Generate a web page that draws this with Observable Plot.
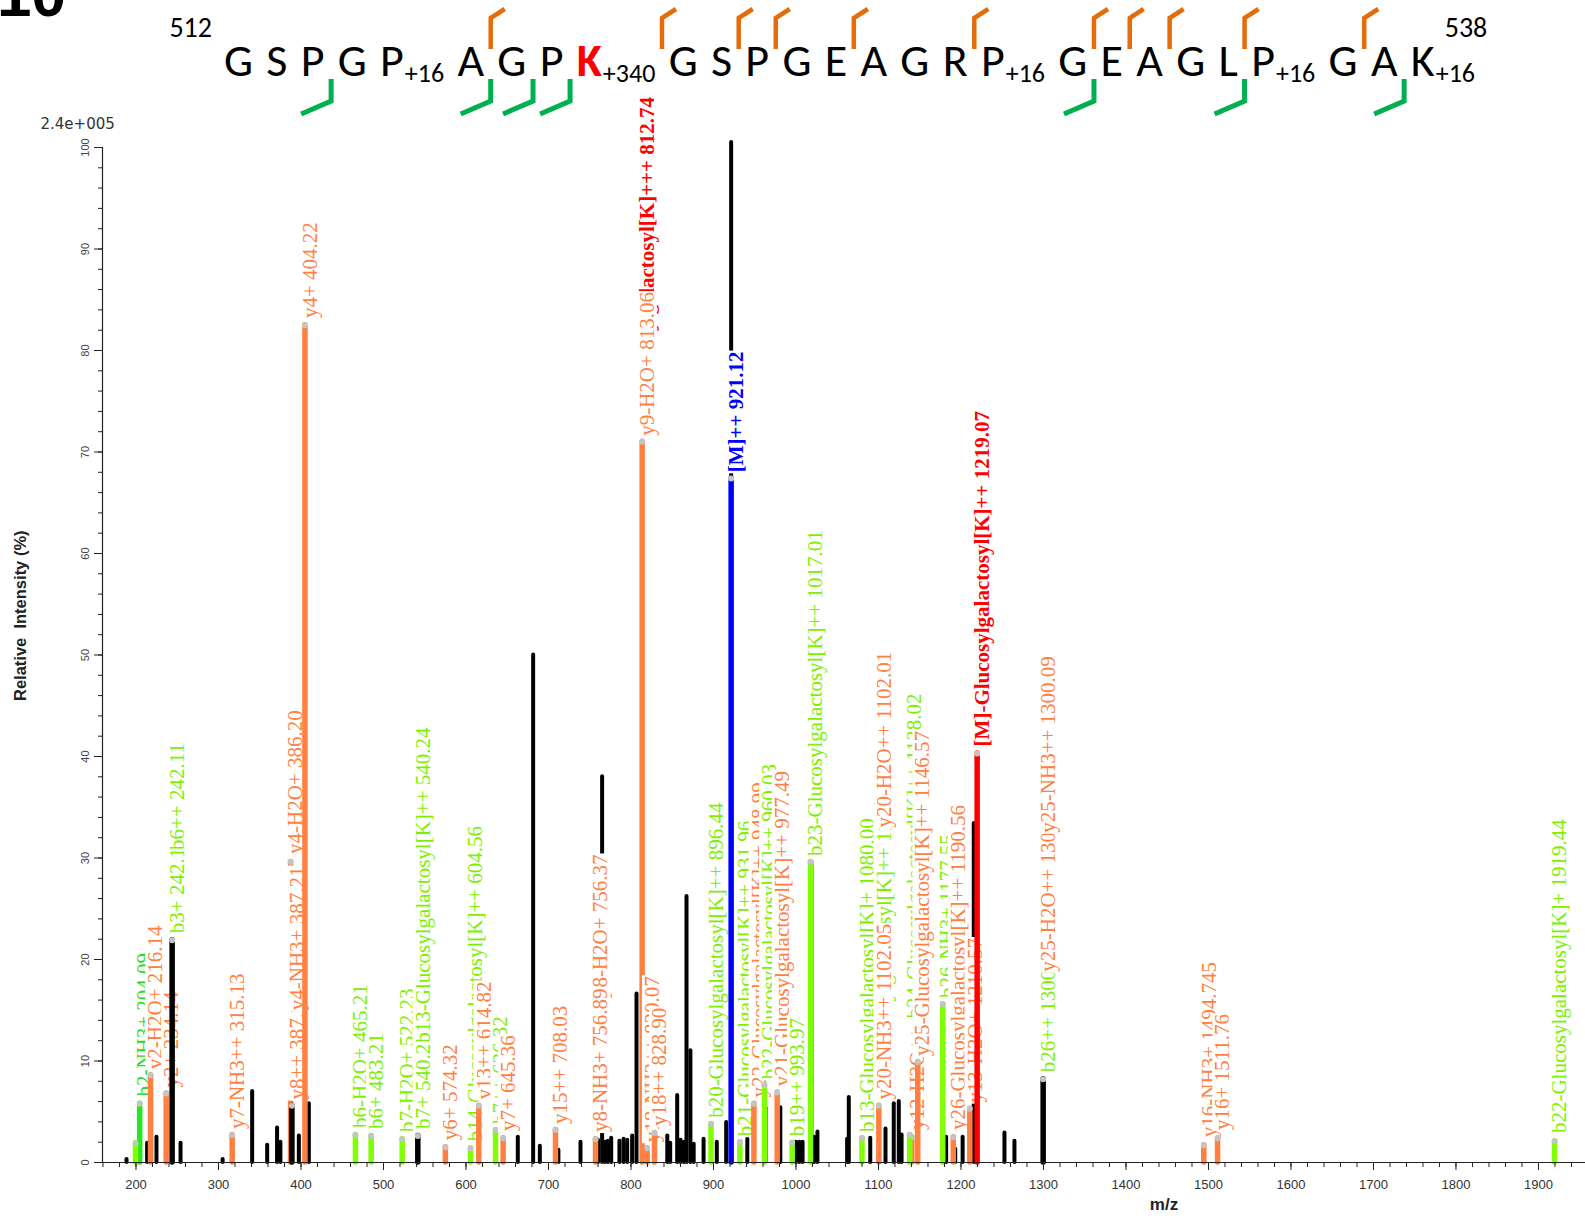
<!DOCTYPE html>
<html>
<head>
<meta charset="utf-8">
<script src="https://cdn.jsdelivr.net/npm/d3@7"></script>
<script src="https://cdn.jsdelivr.net/npm/@observablehq/plot@0.6"></script>
<style>
  html, body { margin: 0; padding: 0; background: #fff; }
  #page { width: 1585px; height: 1219px; overflow: hidden; position: relative; }
  #page svg { display: block; position: absolute; left: 0; }
</style>
</head>
<body>
<div id="page"></div>
<script>
// ---------------- Peptide 512–538 with fragment coverage ----------------
const residues   = ["G","S","P","G","P","A","G","P","K","G","S","P","G","E","A","G","R","P","G","E","A","G","L","P","G","A","K"];
const residueMod = ["","","","","+16","","","","+340","","","","","","","","","+16","","","","","","+16","","","+16"];
const glycoResidue = 9;                 // glycosylated hydroxylysine (1-based)
const firstPos = 512, lastPos = 538;
const yIonBreaks = [6, 9, 11, 12, 14, 17, 19, 20, 21, 23, 25];   // cleavage after residue n
const bIonBreaks = [3, 6, 7, 8, 19, 23, 26];

// ---------------- Spectrum: unassigned peaks (m/z, relative intensity %) ----------------
const rawMz  = [188.5, 213.5, 224.8, 254, 305, 340.8, 359, 371, 375, 397.4, 409.5,
                662.8, 681.4, 689.5, 712, 738.8, 760, 765, 768.5, 772, 776, 786, 791, 795.4, 801.4,
                806.7, 844, 847.5, 856, 860, 864, 867.3, 872, 876, 888, 904, 915.4, 921.4,
                941, 963, 981, 1000, 1004, 1008, 1018.6, 1022, 1026, 1062, 1064, 1090,
                1108.5, 1118.5, 1124.6, 1128, 1182, 1193, 1202, 1215.5, 1252.7, 1264.8];
const rawPct = [0.3, 1.9, 2.5, 1.9, 0.3, 7.0, 1.7, 3.4, 2.0, 2.6, 5.8,
                2.5, 50.0, 1.6, 1.2, 2.0, 2.2, 38.0, 2.0, 2.1, 2.4, 2.1, 2.3, 2.2, 2.6,
                16.6, 2.6, 1.9, 6.6, 2.2, 2.0, 26.2, 11.0, 1.8, 2.3, 2.0, 3.95, 100.5,
                2.3, 5.4, 5.4, 2.0, 2.0, 2.0, 29.6, 2.5, 3.0, 2.3, 6.4, 2.4,
                3.3, 5.8, 6.0, 2.7, 2.5, 1.3, 2.5, 33.4, 2.9, 2.1];

// ---------------- Spectrum: assigned peaks ----------------
const ionMz   = [199.4, 204.5, 217.6, 236.6, 243.8, 316.6, 387.4, 389.0, 404.8, 466, 485, 522.7, 541.6,
                 575, 605.5, 615.5, 635.8, 645, 708.5, 757, 813.5, 819.6, 828.5, 897, 921.4, 932, 949,
                 961.8, 977.2, 995.4, 1017.6, 1080, 1100.4, 1137.8, 1140.5, 1147.6, 1177.9, 1190.6,
                 1210.7, 1219.6, 1299.6, 1494.3, 1511, 1919.5];
const ionPct  = [1.9, 5.8, 8.6, 6.8, 21.9, 2.7, 29.6, 5.6, 82.5, 2.7, 2.6, 2.3, 2.6,
                 1.5, 1.4, 5.6, 3.2, 2.4, 3.2, 2.3, 71.0, 1.4, 2.9, 3.8, 67.4, 2.0, 5.8,
                 7.6, 6.9, 1.95, 29.6, 2.4, 5.6, 2.7, 2.5, 9.9, 15.6, 2.5,
                 5.3, 40.3, 8.2, 1.7, 2.4, 2.1];
const ionType = ["b", "oxo", "y", "y", "mixed", "y", "y", "mixed", "y", "b", "b", "b", "mixed",
                 "y", "b", "y", "b", "y", "y", "y", "y", "y", "y", "b", "prec", "b", "y",
                 "b", "y", "b", "b", "b", "y", "b", "y", "y", "b", "y",
                 "y", "precGly", "mixed", "y", "y", "b"];

// ---------------- Fragment annotations, in drawing order ----------------
// labelPeak: m/z of the peak carrying the label; labelAt: where the label text begins (%)
const labelPeak = [204.5, 217.6, 236.6, 243.8, 243.8, 316.6, 387.4, 389.0, 389.0, 404.8,
                   466, 485, 522.7, 541.6, 541.6, 575, 605.5, 615.5, 635.8, 645, 708.5,
                   757, 757, 813.5, 813.5, 819.6, 828.5, 897, 921.4, 932, 949, 961.8, 977.2,
                   995.4, 1017.6, 1080, 1100.4, 1100.4, 1100.4, 1140.5, 1137.8, 1147.6, 1177.9,
                   1190.6, 1210.7, 1219.6, 1299.6, 1299.6, 1299.6, 1494.3, 1511, 1919.5];
const labelAt   = [6.3, 9.0, 7.2, 22.4, 30.6, 3.1, 30.2, 6.0, 14.8, 83.0,
                   3.2, 3.1, 2.8, 3.1, 11.6, 2.0, 1.9, 6.0, 3.6, 2.9, 3.6,
                   16.0, 2.8, 71.6, 71.4, 1.8, 3.4, 4.2, 67.8, 2.4, 6.2, 8.0, 7.3,
                   2.4, 30.0, 2.8, 6.0, 32.8, 6.0, 3.0, 14.0, 10.3, 16.0,
                   3.0, 5.7, 40.8, 8.7, 18.6, 32.3, 2.3, 3.0, 2.7];
const labelText = ["b2-NH3+ 204.09", "y2-H2O+ 216.14", "y2+ 234.14", "b3+ 242.11", "b6++ 242.11",
                   "y7-NH3++ 315.13", "y4-H2O+ 386.20", "y8++ 387.21", "y4-NH3+ 387.21", "y4+ 404.22",
                   "b6-H2O+ 465.21", "b6+ 483.21", "b7-H2O+ 522.23", "b7+ 540.24",
                   "b13-Glucosylgalactosyl[K]++ 540.24", "y6+ 574.32",
                   "b14-Glucosylgalactosyl[K]++ 604.56", "y13++ 614.82", "b7++ 636.32", "y7+ 645.36",
                   "y15++ 708.03", "y8-H2O+ 756.37", "y8-NH3+ 756.89",
                   "[M]-Glucosylgalactosyl[K]+++ 812.74", "y9-H2O+ 813.06", "y18-NH3++ 820.07",
                   "y18++ 828.90", "b20-Glucosylgalactosyl[K]++ 896.44", "[M]++ 921.12",
                   "b21-Glucosylgalactosyl[K]++ 931.96", "y22-Glucosylgalactosyl[K]++ 948.99",
                   "b22-Glucosylgalactosyl[K]++ 960.03", "y21-Glucosylgalactosyl[K]++ 977.49",
                   "b19++ 993.97", "b23-Glucosylgalactosyl[K]++ 1017.01",
                   "b13-Glucosylgalactosyl[K]+ 1080.00", "b24-Glucosylgalactosyl[K]++ 1101.12",
                   "y20-H2O++ 1102.01", "y20-NH3++ 1102.05", "y12-H2O++ 1138.55",
                   "b24-Glucosylgalactosyl[K]++ 1138.02", "y25-Glucosylgalactosyl[K]++ 1146.57",
                   "b26-NH3+ 1177.55", "y26-Glucosylgalactosyl[K]++ 1190.56",
                   "y13-H2O+ 1210.57", "[M]-Glucosylgalactosyl[K]++ 1219.07",
                   "b26++ 1300.07", "y25-H2O++ 1300.59", "y25-NH3++ 1300.09",
                   "y16-NH3+ 1494.745", "y16+ 1511.76", "b22-Glucosylgalactosyl[K]+ 1919.44"];
const labelType = ["oxo", "y", "y", "b", "b", "y", "y", "y", "y", "y",
                   "b", "b", "b", "b", "b", "y", "b", "y", "b", "y", "y",
                   "y", "y", "precGly", "y", "y", "y", "b", "prec", "b", "y", "b", "y",
                   "b", "b", "b", "b", "y", "y", "y", "b", "y", "b",
                   "y", "y", "precGly", "b", "y", "y", "y", "y", "b"];

// Axis ticks
const xMajorTicks = d3.range(200, 2000, 100);
const xMinorTicks = d3.range(160, 1960, 20);
const yMajorTicks = d3.range(0, 101, 10);
const yMinorTicks = d3.range(0, 101, 2);
const intensityScaleText = "2.4e+005";

// ---------------- Styling ----------------
const barColor = {b: "#80ff00", y: "#ff8040", oxo: "#22e822", prec: "#0000ff", precGly: "#ff0000", mixed: "#000000"};
const textColor = {b: "#7cf000", y: "#ff8040", oxo: "#22dd22", prec: "#0000ff", precGly: "#ff0000"};
const capColor = "#c4c4c4";
const serif = "'Liberation Serif', 'Times New Roman', serif";
const sans = "'Liberation Sans', Arial, sans-serif";

const page = document.getElementById("page");
const headerH = 105;

// ---------------- Spectrum ----------------
const raw = rawMz.map((mz, i) => ({mz, pct: rawPct[i]}));
const ions = ionMz.map((mz, i) => ({mz, pct: ionPct[i], type: ionType[i]}));
const labels = labelText.map((text, i) => ({peak: labelPeak[i], at: labelAt[i], text, type: labelType[i]}));

const xDomain = [159.4, 1957];
const marks = [
  Plot.ruleX(raw, {x: "mz", y1: 0, y2: "pct", stroke: "#000", strokeWidth: 4, strokeLinecap: "round"})
];

function peakMarks(d) {
  return [
    Plot.ruleX([d], {x: "mz", y1: 0, y2: "pct", stroke: barColor[d.type], strokeWidth: 5.5, strokeLinecap: "round"}),
    Plot.dot([d], {x: "mz", y: "pct", r: 3, fill: capColor})
  ];
}

// each annotated peak is drawn just before its first label; labels carry an opaque backing
const drawnPeaks = new Set();
labels.forEach(l => {
  const ion = ions.find(d => d.mz === l.peak);
  if (ion && !drawnPeaks.has(ion)) { drawnPeaks.add(ion); marks.push(...peakMarks(ion)); }
  const bold = l.type === "prec" || l.type === "precGly";
  marks.push(Plot.text([l], {
    x: "peak", y: "at", text: "text", rotate: -90, textAnchor: "start",
    fill: textColor[l.type], fontSize: 21, fontFamily: serif,
    fontWeight: bold ? "bold" : "normal", dx: 5, dy: -2, className: "peak-label"
  }));
});
ions.filter(d => !drawnPeaks.has(d)).forEach(d => marks.push(...peakMarks(d)));

// axes
marks.push(
  Plot.ruleY([0], {stroke: "#222", strokeWidth: 1.2}),
  Plot.ruleX([xDomain[0]], {y1: 0, y2: 100, stroke: "#222", strokeWidth: 1.2}),
  Plot.axisX({ticks: xMajorTicks, tickSize: 8, tickFormat: () => "", label: null, stroke: "#222"}),
  Plot.axisX({ticks: xMinorTicks, tickSize: 5, tickFormat: () => "", label: null, stroke: "#222"}),
  Plot.axisY({ticks: yMajorTicks, tickSize: 8, tickFormat: () => "", label: null, stroke: "#222"}),
  Plot.axisY({ticks: yMinorTicks, tickSize: 4, tickFormat: () => "", label: null, stroke: "#222"}),
  Plot.text(xMajorTicks, {x: d => d, y: 0, text: d => String(d), dy: 22, fontSize: 13, fill: "#333", fontFamily: sans}),
  Plot.text(yMajorTicks, {x: xDomain[0], y: d => d, text: d => String(d), rotate: -90, dx: -17, fontSize: 11, fill: "#444", fontFamily: sans}),
  Plot.text(["m/z"], {frameAnchor: "bottom", dx: 320, dy: 47, fontSize: 17, fontWeight: "bold", fill: "#222", fontFamily: sans}),
  Plot.text(["Relative  Intensity (%)"], {frameAnchor: "left", rotate: -90, dx: -82, dy: 46, fontSize: 16.5, fontWeight: "bold", fill: "#222",
    fontFamily: "'Liberation Sans Narrow', 'Arial Narrow', " + sans}),
  Plot.text([intensityScaleText], {frameAnchor: "top-left", textAnchor: "start", dx: -62, dy: -29, fontSize: 15, fill: "#333",
    fontFamily: "'DejaVu Sans', Verdana, sans-serif"})
);

const chart = Plot.plot({
  width: 1585,
  height: 1219 - headerH,
  marginLeft: 102, marginRight: 0, marginTop: 42, marginBottom: 57,
  x: {domain: xDomain},
  y: {domain: [0, 100]},
  style: {background: "#fff", overflow: "visible", fontFamily: sans},
  marks
});
chart.style.top = headerH + "px";
page.appendChild(chart);

// opaque backing behind each annotation, so later labels cover earlier bars and labels
chart.querySelectorAll("g.peak-label text").forEach(t => {
  const b = t.getBBox();
  const r = document.createElementNS("http://www.w3.org/2000/svg", "rect");
  r.setAttribute("x", b.x - 1);
  r.setAttribute("y", b.y + 2);
  r.setAttribute("width", b.width + 2);
  r.setAttribute("height", Math.max(0, b.height - 4));
  r.setAttribute("fill", "#fff");
  if (t.getAttribute("transform")) r.setAttribute("transform", t.getAttribute("transform"));
  t.parentNode.insertBefore(r, t);
});

// ---------------- Sequence header (overlays the top of the spectrum) ----------------
const header = d3.select(page).append("svg")
  .attr("width", 1585).attr("height", 125)
  .style("top", "0px")
  .style("font-family", "Carlito, Calibri, Lato, sans-serif");

// panel letter (cut by the top edge)
header.append("text").attr("x", -3).attr("y", 16)
  .attr("font-family", sans).attr("font-weight", "bold").attr("font-size", 62)
  .text("10");

const seqLeft = 224, seqRight = 1475, letterBase = 76, modBase = 82;
const tokens = residues.map((r, i) => {
  const g = header.append("g");
  const letter = g.append("text").attr("y", letterBase).attr("font-size", 46)
    .attr("fill", i + 1 === glycoResidue ? "#ff0000" : "#000")
    .attr("font-weight", i + 1 === glycoResidue ? "bold" : "normal")
    .text(r);
  const mod = residueMod[i] ? g.append("text").attr("y", modBase).attr("font-size", 26).text(residueMod[i]) : null;
  const lw = letter.node().getComputedTextLength();
  const mw = mod ? mod.node().getComputedTextLength() + 1 : 0;
  return {letter, mod, lw, mw, w: lw + mw};
});
const totalW = d3.sum(tokens, t => t.w);
const gap = (seqRight - seqLeft - totalW) / (tokens.length - 1);
let cx = seqLeft;
tokens.forEach(t => {
  t.x0 = cx;
  t.letter.attr("x", cx);
  if (t.mod) t.mod.attr("x", cx + t.lw + 1);
  t.x1 = cx + t.w;
  cx += t.w + gap;
});
header.append("text").attr("x", seqLeft - 12).attr("y", 37).attr("font-size", 28)
  .attr("text-anchor", "end").text(firstPos);
const lastTok = tokens[tokens.length - 1];
header.append("text").attr("x", lastTok.x0 + lastTok.lw + 10).attr("y", 37).attr("font-size", 28)
  .text(lastPos);

const breakX = n => (tokens[n - 1].x1 + tokens[n].x0) / 2;
yIonBreaks.forEach(n => {
  const x = breakX(n);
  header.append("path")
    .attr("d", `M${x},49 L${x},18 L${x + 14},9`)
    .attr("fill", "none").attr("stroke", "#e46c0a").attr("stroke-width", 4.5);
});
bIonBreaks.forEach(n => {
  const x = breakX(n);
  header.append("path")
    .attr("d", `M${x},79 L${x},101 L${x - 30},114`)
    .attr("fill", "none").attr("stroke", "#00b050").attr("stroke-width", 5);
});
</script>
</body>
</html>
